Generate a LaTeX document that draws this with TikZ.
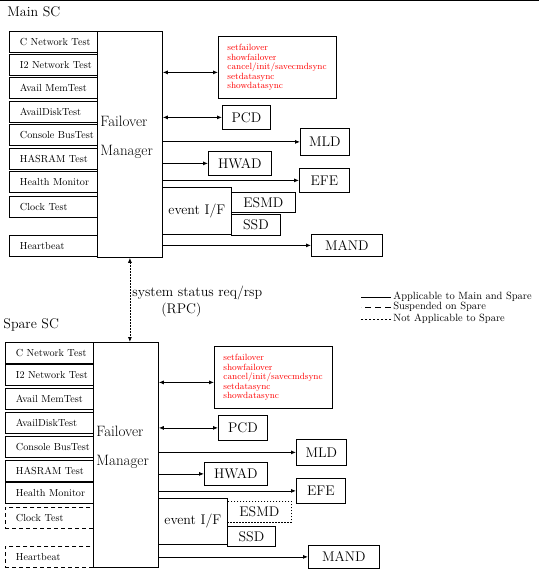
\documentclass[tikz,border=0pt]{standalone}
\usepackage{tikz}
\usetikzlibrary{arrows.meta}

\tikzset{
  blk/.style={draw, rectangle, anchor=north west, inner sep=0pt},
  test/.style={blk, minimum width=88pt, minimum height=21pt, text width=86pt, inner xsep=1pt, align=left, font=\fontsize{10.2}{12}\selectfont, execute at begin node={\hspace*{9.5pt}}},
  cmd/.style={blk, minimum width=118pt, minimum height=62pt, text width=100pt, inner xsep=9pt, align=left, text=red, font=\fontsize{9}{9.5}\selectfont},
  lbl/.style={blk, font=\fontsize{14}{17}\selectfont},
  big/.style={inner sep=0pt, font=\fontsize{14}{17}\selectfont},
  leg/.style={inner sep=2pt, anchor=west, font=\fontsize{10.5}{12}\selectfont},
  susp/.style={dash pattern=on 4pt off 3pt},
  notap/.style={dash pattern=on 1.5pt off 1.5pt},
}

\begin{document}
\begin{tikzpicture}[x=1pt, y=-1pt, line width=0.8pt, >={Latex[length=5pt,width=4pt]}]
    \useasboundingbox (0,0) rectangle (539,572);
    \draw (0,0.5) -- (539,0.5);

    % Main SC
    \node[big, anchor=west] (mainsc) at (7,12) {Main SC};
    \node[test] (mcnt) at (9,31) {C Network Test};
    \node[test] (minet) at (9,54) {I2 Network Test};
    \node[test] (mmem) at (9,77) {Avail MemTest};
    \node[test] (mdisk) at (9,101) {AvailDiskTest};
    \node[test] (mbus) at (9,124) {Console BusTest};
    \node[test] (msram) at (9,148) {HASRAM Test};
    \node[test] (mhm) at (9,171) {Health Monitor};
    \node[test] (mclk) at (9,196) {Clock Test};
    \node[test] (mhb) at (9,235) {Heartbeat};
    \node[blk, minimum width=65pt, minimum height=226pt] (mfm) at (97,31) {};
    \node[big, anchor=north west, align=left, font=\fontsize{15}{17}\selectfont] (mfmtxt) at (100,116) {Failover\\[12pt]Manager};

    \node[cmd] (mcmd) at (218,36) {setfailover\\showfailover\\cancel/init/savecmdsync\\setdatasync\\showdatasync};
    \node[lbl, minimum width=48pt, minimum height=24pt] (mpcd) at (222,105) {PCD};
    \node[lbl, minimum width=49pt, minimum height=27pt] (mmld) at (300,128) {MLD};
    \node[lbl, minimum width=63pt, minimum height=24pt] (mhwad) at (208,151) {HWAD};
    \node[lbl, minimum width=50pt, minimum height=24pt] (mefe) at (299,168) {EFE};
    \node[lbl, minimum width=69pt, minimum height=47pt] (mevif) at (162,187) {event I/F};
    \node[lbl, minimum width=64pt, minimum height=20pt] (mesmd) at (231,192) {ESMD};
    \node[lbl, minimum width=49pt, minimum height=21pt] (mssd) at (231,214) {SSD};
    \node[lbl, minimum width=71pt, minimum height=22pt] (mmand) at (311,234) {MAND};

    \coordinate (mcmdin) at ([yshift=-5pt]mcmd.west);
    \draw[<->] (mfm.east |- mcmdin) -- (mcmdin);
    \draw[<->] (mfm.east |- mpcd.west) -- (mpcd.west);
    \draw[->] (mfm.east |- mmld.west) -- (mmld.west);
    \draw[->] (mfm.east |- mhwad.west) -- (mhwad.west);
    \draw[->] (mfm.east |- mefe.west) -- (mefe.west);
    \draw[->] (mfm.east |- mmand.west) -- (mmand.west);

    % RPC and legend
    \node[big, anchor=west] (rpc) at (132,293) {system status req/rsp};
    \node[big, anchor=west] (rpcb) at (161,310) {(RPC)};
    \node[leg] (lgall) at (391,297) {Applicable to Main and Spare};
    \node[leg] (lgsusp) at (391,307) {Suspended on Spare};
    \node[leg] (lgnot) at (391,319) {Not Applicable to Spare};
    \draw (lgall.west) -- ++(-30,0);
    \draw[dash pattern=on 6pt off 4pt] (lgsusp.west) -- ++(-30,0);
    \draw[dash pattern=on 2pt off 2pt] (lgnot.west) -- ++(-30,0);

    % Spare SC
    \node[big, anchor=west] (sparesc) at (3,325) {Spare SC};
    \node[test] (scnt) at (5,342) {C Network Test};
    \node[test] (sinet) at (5,364) {I2 Network Test};
    \node[test] (smem) at (5,388) {Avail MemTest};
    \node[test] (sdisk) at (5,412) {AvailDiskTest};
    \node[test] (sbus) at (5,436) {Console BusTest};
    \node[test] (ssram) at (5,460) {HASRAM Test};
    \node[test] (shm) at (5,482) {Health Monitor};
    \node[test, susp] (sclk) at (5,507) {Clock Test};
    \node[test, susp] (shb) at (5,546) {Heartbeat};
    \node[blk, minimum width=65pt, minimum height=225pt] (sfm) at (93,342) {};
    \node[big, anchor=north west, align=left, font=\fontsize{15}{17}\selectfont] (sfmtxt) at (96,426) {Failover\\[12pt]Manager};

    \node[cmd] (scmd) at (214,346) {setfailover\\showfailover\\cancel/init/savecmdsync\\setdatasync\\showdatasync};
    \node[lbl, minimum width=49pt, minimum height=25pt] (spcd) at (218,415) {PCD};
    \node[lbl, minimum width=50pt, minimum height=26pt] (smld) at (296,439) {MLD};
    \node[lbl, minimum width=63pt, minimum height=23pt] (shwad) at (204,462) {HWAD};
    \node[lbl, minimum width=49pt, minimum height=25pt] (sefe) at (296,478) {EFE};
    \node[lbl, minimum width=69pt, minimum height=46pt] (sevif) at (158,498) {event I/F};
    \node[lbl, notap, minimum width=64pt, minimum height=21pt] (sesmd) at (227,501) {ESMD};
    \node[lbl, minimum width=48pt, minimum height=20pt] (sssd) at (227,526) {SSD};
    \node[lbl, minimum width=71pt, minimum height=23pt] (smand) at (308,545) {MAND};

    \coordinate (scmdin) at ([yshift=-5pt]scmd.west);
    \draw[<->] (sfm.east |- scmdin) -- (scmdin);
    \draw[<->] (sfm.east |- spcd.west) -- (spcd.west);
    \draw[->] (sfm.east |- smld.west) -- (smld.west);
    \draw[->] (sfm.east |- shwad.west) -- (shwad.west);
    \draw[->] (sfm.east |- sefe.west) -- (sefe.west);
    \draw[->] (sfm.east |- smand.west) -- (smand.west);

    \draw[<->, notap] (mfm.south) -- (mfm.south |- sfm.north);
\end{tikzpicture}
\end{document}
